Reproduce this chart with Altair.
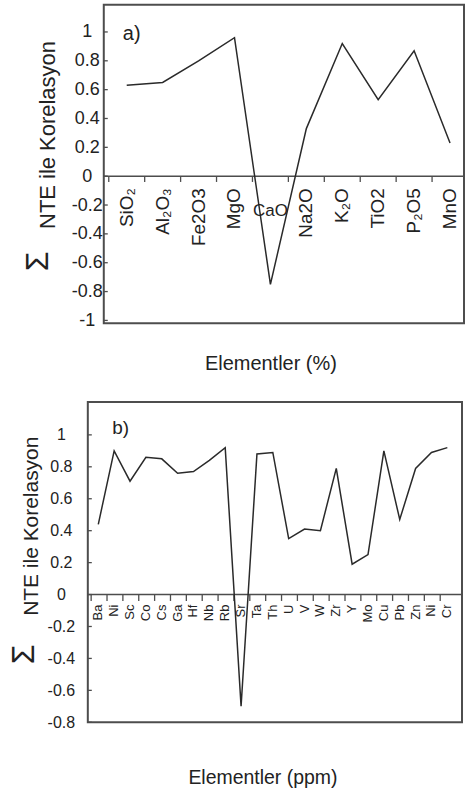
import altair as alt
import pandas as pd

# ---------------- data ----------------
oxides = ["SiO₂", "Al₂O₃", "Fe2O3", "MgO", "CaO", "Na2O", "K₂O", "TiO2", "P₂O5", "MnO"]
oxide_corr = [0.63, 0.65, 0.80, 0.96, -0.75, 0.33, 0.92, 0.53, 0.87, 0.23]

elements = ["Ba", "Ni", "Sc", "Co", "Cs", "Ga", "Hf", "Nb", "Rb", "Sr", "Ta", "Th",
            "U", "V", "W", "Zr", "Y", "Mo", "Cu", "Pb", "Zn", "Ni", "Cr"]
element_corr = [0.44, 0.90, 0.71, 0.86, 0.85, 0.76, 0.77, 0.84, 0.92, -0.70, 0.88, 0.89,
                0.35, 0.41, 0.40, 0.79, 0.19, 0.25, 0.90, 0.47, 0.79, 0.89, 0.92]

ticks_a = [-1, -0.8, -0.6, -0.4, -0.2, 0, 0.2, 0.4, 0.6, 0.8, 1]
ticks_b = [-0.8, -0.6, -0.4, -0.2, 0, 0.2, 0.4, 0.6, 0.8, 1]

y_title = "NTE ile Korelasyon"
sigma = "Σ"
x_title_a = "Elementler (%)"
x_title_b = "Elementler (ppm)"
panel_a_label = "a)"
panel_b_label = "b)"

# ---------------- styles ----------------
FONT = "Liberation Sans, Arial, sans-serif"
TXT = "#222222"
LINE = "#2a2a2a"
FRAME = "#4d4d4d"
LABEL_EXPR = "datum.value < 0 ? '-' + format(-datum.value, '') : format(datum.value, '')"


def panel(names, vals, ticks, W, H, xdom, ydom, fx0, tick_shift, cat_size, cat_dx,
          lab_size, lab_pad, y_offset, title_size, title_y, xtitle, xtitle_size,
          xtitle_x, xtitle_y, sig_xy, letter, letter_size, letter_xy, special=None):
    df = pd.DataFrame({"i": list(range(len(names))), "name": names, "v": vals})
    xs = alt.Scale(domain=xdom, nice=False, zero=False)
    ys = alt.Scale(domain=ydom, nice=False, zero=False)
    ax_x = alt.Axis(
        title=xtitle, labels=False, ticks=False, domain=False, grid=False,
        titleX=xtitle_x, titleY=xtitle_y, titleAlign="center",
        titleBaseline="middle", titleFont=FONT, titleFontSize=xtitle_size,
        titleFontWeight="normal", titleColor=TXT)
    ax_y = alt.Axis(
        values=ticks, labelExpr=LABEL_EXPR, labelAlign="center",
        labelBaseline="middle", labelPadding=lab_pad, labelFont=FONT,
        labelFontSize=lab_size, labelColor=TXT, labelOverlap=False,
        labelFlush=False, ticks=False, tickSize=0, domain=False, grid=False,
        offset=y_offset, title=y_title, titleAngle=270, titleX=-56,
        titleY=title_y, titleAlign="center", titleBaseline="middle",
        titleFont=FONT, titleFontSize=title_size, titleFontWeight="normal",
        titleColor=TXT)

    base = alt.Chart(df)
    one = base.transform_aggregate(n="count()")

    frame = one.mark_rect(filled=False, stroke=FRAME, strokeWidth=2).encode(
        x=alt.value(fx0), x2=alt.value(W), y=alt.value(0), y2=alt.value(H))

    zero = one.mark_rule(color=FRAME, strokeWidth=1.6).encode(
        x=alt.value(fx0), x2=alt.value(W),
        y=alt.YDatum(0, scale=ys, axis=ax_y))

    xt = base.transform_calculate(t=f"datum.i - {tick_shift}").mark_rule(
        color=FRAME, strokeWidth=1.3).encode(
        x=alt.X("t:Q", scale=xs, axis=ax_x),
        y=alt.YDatum(0, scale=ys, axis=ax_y),
        y2=alt.Y2Datum(-0.04))

    yt = alt.Chart(pd.DataFrame({"v": ticks})).mark_rule(
        color=FRAME, strokeWidth=1.3).encode(
        y=alt.Y("v:Q", scale=ys, axis=ax_y),
        x=alt.value(fx0), x2=alt.value(fx0 + 4))

    line = base.mark_line(color=LINE, strokeWidth=1.5).encode(
        x=alt.X("i:Q", scale=xs, axis=ax_x),
        y=alt.Y("v:Q", scale=ys, axis=ax_y))

    filt = f"datum.name != '{special}'" if special else "true"
    labels = base.transform_filter(filt).mark_text(
        angle=270, align="right", baseline="middle", dx=cat_dx, font=FONT,
        fontSize=cat_size, color=TXT).encode(
        x=alt.X("i:Q", scale=xs, axis=ax_x),
        y=alt.YDatum(0, scale=ys, axis=ax_y),
        text="name:N")

    layers = [frame, zero, xt, yt, line, labels]

    if special:
        sp = base.transform_filter(f"datum.name == '{special}'").mark_text(
            align="center", baseline="middle", dy=35, font=FONT, fontSize=17,
            color=TXT).encode(
            x=alt.X("i:Q", scale=xs, axis=ax_x),
            y=alt.YDatum(0, scale=ys, axis=ax_y),
            text="name:N")
        layers.append(sp)

    sig = one.mark_text(text=sigma, angle=270, align="center", baseline="middle",
                        font=FONT, fontSize=32, color=TXT).encode(
        x=alt.value(sig_xy[0]), y=alt.value(sig_xy[1]))
    let = one.mark_text(text=letter, align="center", baseline="middle",
                        font=FONT, fontSize=letter_size, color=TXT).encode(
        x=alt.value(letter_xy[0]), y=alt.value(letter_xy[1]))
    layers += [sig, let]

    return alt.layer(*layers).properties(width=W, height=H)


pa = panel(oxides, oxide_corr, ticks_a, 361, 319, [-0.6389, 9.3889], [-1.019, 1.188],
           0, 0.5, 19, -12, 18, 17, 0, 22, 130, x_title_a, 20, 167, 40,
           (-66, 257), panel_a_label, 20, (28, 29), special="CaO")

pb = panel(elements, element_corr, ticks_b, 359, 321, [0.3459, 22.9245], [-0.8, 1.206],
           -16, 0.45, 13, -10, 16, 27, 16, 21, 124, x_title_b, 19.5, 159, 55,
           (-80, 253), panel_b_label, 19, (17, 26))

chart = alt.vconcat(pa, pb, spacing=79, bounds="flush").configure_view(
    strokeWidth=0).properties(padding={"left": 8, "top": 3, "right": 0, "bottom": 0})

chart.save("out.html", embed_options={"renderer": "svg", "actions": False})
